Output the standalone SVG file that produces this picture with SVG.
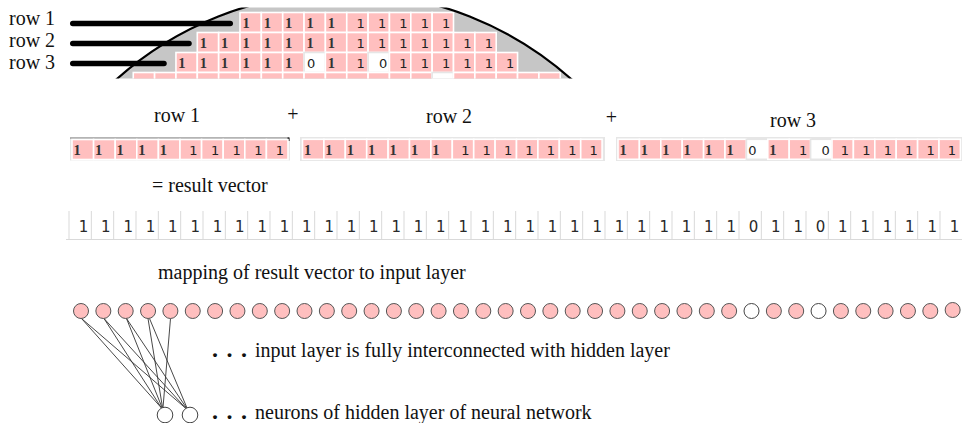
<svg xmlns="http://www.w3.org/2000/svg" width="962" height="423" viewBox="0 0 962 423">
<style>
.lbl{font-family:"Liberation Serif","Times New Roman",serif;font-size:20px;fill:#111}
.d{font-family:"DejaVu Sans",Verdana,sans-serif;font-size:13px;fill:#222;text-anchor:middle}
.g{font-family:"Liberation Serif","Times New Roman",serif;font-weight:bold;font-size:14.5px;fill:#333;text-anchor:middle}
.pk{fill:#ffbfbf;stroke:#fff;stroke-width:1.6}
.wc{fill:#fff;stroke:#e6e6e6;stroke-width:1.6}
.rv{font-family:"DejaVu Sans",Verdana,sans-serif;font-size:15px;fill:#2a2a2a;text-anchor:middle}
.vl{stroke:#d9d9d9;stroke-width:1;fill:none}
.n{fill:#ffbfbf;stroke:#555;stroke-width:1}
.h{fill:#fff;stroke:#444;stroke-width:1}
.e{stroke:#333;stroke-width:0.9;fill:none}
.bar{stroke:#000;stroke-width:5.5;stroke-linecap:round}
.box{fill:#e6e6e6}
.dots{font-family:"Liberation Serif","Times New Roman",serif;font-size:24px;font-weight:bold;fill:#111;text-anchor:middle}
</style>
<defs>
<clipPath id="clipTop"><rect x="0" y="7.5" width="962" height="71"/></clipPath>
</defs>
<rect width="962" height="423" fill="#fff"/>

<g id="wafer-map">
<g clip-path="url(#clipTop)">
<circle cx="344" cy="334" r="341.5" fill="#c6c6c6"/>
<g id="map-row1">
<rect class="pk" x="240" y="12.5" width="21.35" height="20"/><rect class="pk" x="261.35" y="12.5" width="21.35" height="20"/><rect class="pk" x="282.7" y="12.5" width="21.35" height="20"/><rect class="pk" x="304.05" y="12.5" width="21.35" height="20"/><rect class="pk" x="325.4" y="12.5" width="21.35" height="20"/><rect class="pk" x="346.75" y="12.5" width="21.35" height="20"/><rect class="pk" x="368.1" y="12.5" width="21.35" height="20"/><rect class="pk" x="389.45" y="12.5" width="21.35" height="20"/><rect class="pk" x="410.8" y="12.5" width="21.35" height="20"/><rect class="pk" x="432.15" y="12.5" width="21.35" height="20"/>
<text class="g" x="246 267.35 288.7 310.05 331.4" y="28.3">11111</text>
<text class="d" x="360.75 382.1 403.45 424.8 446.15" y="28.3">11111</text>
</g>
<g id="map-row2">
<rect class="pk" x="197.3" y="32.5" width="21.35" height="20"/><rect class="pk" x="218.65" y="32.5" width="21.35" height="20"/><rect class="pk" x="240" y="32.5" width="21.35" height="20"/><rect class="pk" x="261.35" y="32.5" width="21.35" height="20"/><rect class="pk" x="282.7" y="32.5" width="21.35" height="20"/><rect class="pk" x="304.05" y="32.5" width="21.35" height="20"/><rect class="pk" x="325.4" y="32.5" width="21.35" height="20"/><rect class="pk" x="346.75" y="32.5" width="21.35" height="20"/><rect class="pk" x="368.1" y="32.5" width="21.35" height="20"/><rect class="pk" x="389.45" y="32.5" width="21.35" height="20"/><rect class="pk" x="410.8" y="32.5" width="21.35" height="20"/><rect class="pk" x="432.15" y="32.5" width="21.35" height="20"/><rect class="pk" x="453.5" y="32.5" width="21.35" height="20"/><rect class="pk" x="474.85" y="32.5" width="21.35" height="20"/>
<text class="g" x="203.3 224.65 246 267.35 288.7 310.05 331.4" y="48.3">1111111</text>
<text class="d" x="360.75 382.1 403.45 424.8 446.15 467.5 488.85" y="48.3">1111111</text>
</g>
<g id="map-row3">
<rect class="pk" x="175.95" y="52.5" width="21.35" height="20"/><rect class="pk" x="197.3" y="52.5" width="21.35" height="20"/><rect class="pk" x="218.65" y="52.5" width="21.35" height="20"/><rect class="pk" x="240" y="52.5" width="21.35" height="20"/><rect class="pk" x="261.35" y="52.5" width="21.35" height="20"/><rect class="pk" x="282.7" y="52.5" width="21.35" height="20"/><rect class="wc" x="304.05" y="52.5" width="21.35" height="20"/><rect class="pk" x="325.4" y="52.5" width="21.35" height="20"/><rect class="pk" x="346.75" y="52.5" width="21.35" height="20"/><rect class="wc" x="368.1" y="52.5" width="21.35" height="20"/><rect class="pk" x="389.45" y="52.5" width="21.35" height="20"/><rect class="pk" x="410.8" y="52.5" width="21.35" height="20"/><rect class="pk" x="432.15" y="52.5" width="21.35" height="20"/><rect class="pk" x="453.5" y="52.5" width="21.35" height="20"/><rect class="pk" x="474.85" y="52.5" width="21.35" height="20"/><rect class="pk" x="496.2" y="52.5" width="21.35" height="20"/>
<text class="g" x="181.95 203.3 224.65 246 267.35 288.7" y="68.3">111111</text>
<text class="d" x="311.05" y="68.3">0</text>
<text class="g" x="331.4" y="68.3">1</text>
<text class="d" x="360.75" y="68.3">1</text>
<text class="d" x="383.1" y="68.3">0</text>
<text class="d" x="403.45 424.8 446.15 467.5 488.85 510.2" y="68.3">111111</text>
</g>
<g id="map-row4">
<rect class="pk" x="133.25" y="72.5" width="21.35" height="20"/><rect class="pk" x="154.6" y="72.5" width="21.35" height="20"/><rect class="pk" x="175.95" y="72.5" width="21.35" height="20"/><rect class="pk" x="197.3" y="72.5" width="21.35" height="20"/><rect class="pk" x="218.65" y="72.5" width="21.35" height="20"/><rect class="pk" x="240" y="72.5" width="21.35" height="20"/><rect class="pk" x="261.35" y="72.5" width="21.35" height="20"/><rect class="pk" x="282.7" y="72.5" width="21.35" height="20"/><rect class="pk" x="304.05" y="72.5" width="21.35" height="20"/><rect class="pk" x="325.4" y="72.5" width="21.35" height="20"/><rect class="pk" x="346.75" y="72.5" width="21.35" height="20"/><rect class="pk" x="368.1" y="72.5" width="21.35" height="20"/><rect class="pk" x="389.45" y="72.5" width="21.35" height="20"/><rect class="pk" x="410.8" y="72.5" width="21.35" height="20"/><rect class="wc" x="432.15" y="72.5" width="21.35" height="20"/><rect class="pk" x="453.5" y="72.5" width="21.35" height="20"/><rect class="pk" x="474.85" y="72.5" width="21.35" height="20"/><rect class="pk" x="496.2" y="72.5" width="21.35" height="20"/><rect class="pk" x="517.55" y="72.5" width="21.35" height="20"/><rect class="pk" x="538.9" y="72.5" width="21.35" height="20"/>
</g>
<circle cx="344" cy="334" r="341.5" fill="none" stroke="#000" stroke-width="2.2"/>
</g>
<line class="bar" x1="72.75" y1="23.5" x2="230.25" y2="23.5"/>
<line class="bar" x1="72.75" y1="43.5" x2="189" y2="43.5"/>
<line class="bar" x1="72.75" y1="63.5" x2="164" y2="63.5"/>
<text class="lbl" x="9" y="25">row 1</text>
<text class="lbl" x="9" y="47">row 2</text>
<text class="lbl" x="9" y="69">row 3</text>
</g>

<g id="row-vectors">
<text class="lbl" x="154" y="122">row 1</text>
<text class="lbl" x="293" y="121" text-anchor="middle">+</text>
<text class="lbl" x="426" y="123">row 2</text>
<text class="lbl" x="611.5" y="124" text-anchor="middle">+</text>
<text class="lbl" x="770" y="126.5">row 3</text>
<g id="vec-row1">
<rect class="box" x="70" y="137.5" width="220" height="23"/>
<line x1="70" y1="138" x2="289" y2="138" stroke="#777" stroke-width="1"/>
<rect x="287.5" y="137.5" width="2" height="3.5" fill="#000"/>
<rect class="pk" x="72" y="139.5" width="21.6" height="20"/><rect class="pk" x="93.6" y="139.5" width="21.6" height="20"/><rect class="pk" x="115.2" y="139.5" width="21.6" height="20"/><rect class="pk" x="136.8" y="139.5" width="21.6" height="20"/><rect class="pk" x="158.4" y="139.5" width="21.6" height="20"/><rect class="pk" x="180" y="139.5" width="21.6" height="20"/><rect class="pk" x="201.6" y="139.5" width="21.6" height="20"/><rect class="pk" x="223.2" y="139.5" width="21.6" height="20"/><rect class="pk" x="244.8" y="139.5" width="21.6" height="20"/><rect class="pk" x="266.4" y="139.5" width="21.6" height="20"/>
<text class="g" x="77 98.6 120.2 141.8 163.4" y="155">11111</text>
<text class="d" x="193.5 215.1 236.7 258.3 279.9" y="155">11111</text>
</g>
<g id="vec-row2">
<rect class="box" x="300" y="137" width="305" height="24"/>
<rect class="pk" x="302.5" y="139.3" width="21.4" height="20"/><rect class="pk" x="323.9" y="139.3" width="21.4" height="20"/><rect class="pk" x="345.3" y="139.3" width="21.4" height="20"/><rect class="pk" x="366.7" y="139.3" width="21.4" height="20"/><rect class="pk" x="388.1" y="139.3" width="21.4" height="20"/><rect class="pk" x="409.5" y="139.3" width="21.4" height="20"/><rect class="pk" x="430.9" y="139.3" width="21.4" height="20"/><rect class="pk" x="452.3" y="139.3" width="21.4" height="20"/><rect class="pk" x="473.7" y="139.3" width="21.4" height="20"/><rect class="pk" x="495.1" y="139.3" width="21.4" height="20"/><rect class="pk" x="516.5" y="139.3" width="21.4" height="20"/><rect class="pk" x="537.9" y="139.3" width="21.4" height="20"/><rect class="pk" x="559.3" y="139.3" width="21.4" height="20"/><rect class="pk" x="580.7" y="139.3" width="21.4" height="20"/>
<text class="g" x="307.5 328.9 350.3 371.7 393.1 414.5 435.9" y="155">1111111</text>
<text class="d" x="465.3 486.7 508.1 529.5 550.9 572.3 593.7" y="155">1111111</text>
</g>
<g id="vec-row3">
<rect class="box" x="616" y="137" width="346" height="24"/>
<rect class="pk" x="618" y="139.3" width="21.4" height="20"/><rect class="pk" x="639.4" y="139.3" width="21.4" height="20"/><rect class="pk" x="660.8" y="139.3" width="21.4" height="20"/><rect class="pk" x="682.2" y="139.3" width="21.4" height="20"/><rect class="pk" x="703.6" y="139.3" width="21.4" height="20"/><rect class="pk" x="725" y="139.3" width="21.4" height="20"/><rect class="wc" x="746.4" y="139.3" width="21.4" height="20"/><rect class="pk" x="767.8" y="139.3" width="21.4" height="20"/><rect class="pk" x="789.2" y="139.3" width="21.4" height="20"/><rect class="wc" x="810.6" y="139.3" width="21.4" height="20"/><rect class="pk" x="832" y="139.3" width="21.4" height="20"/><rect class="pk" x="853.4" y="139.3" width="21.4" height="20"/><rect class="pk" x="874.8" y="139.3" width="21.4" height="20"/><rect class="pk" x="896.2" y="139.3" width="21.4" height="20"/><rect class="pk" x="917.6" y="139.3" width="21.4" height="20"/><rect class="pk" x="939" y="139.3" width="21.4" height="20"/>
<text class="g" x="623 644.4 665.8 687.2 708.6 730" y="155">111111</text>
<text class="d" x="752.4" y="155">0</text>
<text class="g" x="772.8" y="155">1</text>
<text class="d" x="803.2" y="155">1</text>
<text class="d" x="825.6" y="155">0</text>
<text class="d" x="845 866.4 887.8 909.2 930.6 952" y="155">111111</text>
</g>
</g>

<g id="result-vector">
<text class="lbl" x="152" y="192">= result vector</text>
<path class="vl" d="M69 211V240M91.33 211V240M113.67 211V240M136 211V240M158.33 211V240M180.67 211V240M203 211V240M225.33 211V240M247.67 211V240M270 211V240M292.33 211V240M314.67 211V240M337 211V240M359.33 211V240M381.67 211V240M404 211V240M426.33 211V240M448.67 211V240M471 211V240M493.33 211V240M515.67 211V240M538 211V240M560.33 211V240M582.67 211V240M605 211V240M627.33 211V240M649.67 211V240M672 211V240M694.33 211V240M716.67 211V240M739 211V240M761.33 211V240M783.67 211V240M806 211V240M828.33 211V240M850.67 211V240M873 211V240M895.33 211V240M917.67 211V240M940 211V240M66 239.5H962"/>
<text class="rv" x="83.5 105.83 128.17 150.5 172.83 195.17 217.5 239.83 262.17 284.5 306.83 329.17 351.5 373.83 396.17 418.5 440.83 463.17 485.5 507.83 530.17 552.5 574.83 597.17 619.5 641.83 664.17 686.5 708.83 731.17 753.5 775.83 798.17 820.5 842.83 865.17 887.5 909.83 932.17 954.5" y="232">1111111111111111111111111111110110111111</text>
<text class="lbl" x="158" y="279">mapping of result vector to input layer</text>
</g>

<g id="connectors">
<line class="e" x1="81.5" y1="318.5" x2="161.5" y2="408"/>
<line class="e" x1="81.5" y1="318.5" x2="186" y2="408.5"/>
<line class="e" x1="104" y1="318.5" x2="161.5" y2="408"/>
<line class="e" x1="104" y1="318.5" x2="186" y2="408.5"/>
<line class="e" x1="126.5" y1="318.5" x2="162" y2="407.5"/>
<line class="e" x1="126.5" y1="318.5" x2="186.5" y2="408"/>
<line class="e" x1="148" y1="318.5" x2="162.5" y2="407.5"/>
<line class="e" x1="149.5" y1="318.5" x2="187" y2="408"/>
<line class="e" x1="170.5" y1="318.5" x2="163" y2="407.5"/>
</g>

<g id="input-layer">
<g id="in-1"><circle class="n" cx="81" cy="311" r="7.5"/></g>
<g id="in-2"><circle class="n" cx="103.35" cy="311" r="7.5"/></g>
<g id="in-3"><circle class="n" cx="125.7" cy="311" r="7.5"/></g>
<g id="in-4"><circle class="n" cx="148.05" cy="311" r="7.5"/></g>
<g id="in-5"><circle class="n" cx="170.4" cy="311" r="7.5"/></g>
<g id="in-6"><circle class="n" cx="192.75" cy="311" r="7.5"/></g>
<g id="in-7"><circle class="n" cx="215.1" cy="311" r="7.5"/></g>
<g id="in-8"><circle class="n" cx="237.45" cy="311" r="7.5"/></g>
<g id="in-9"><circle class="n" cx="259.8" cy="311" r="7.5"/></g>
<g id="in-10"><circle class="n" cx="282.15" cy="311" r="7.5"/></g>
<g id="in-11"><circle class="n" cx="304.5" cy="311" r="7.5"/></g>
<g id="in-12"><circle class="n" cx="326.85" cy="311" r="7.5"/></g>
<g id="in-13"><circle class="n" cx="349.2" cy="311" r="7.5"/></g>
<g id="in-14"><circle class="n" cx="371.55" cy="311" r="7.5"/></g>
<g id="in-15"><circle class="n" cx="393.9" cy="311" r="7.5"/></g>
<g id="in-16"><circle class="n" cx="416.25" cy="311" r="7.5"/></g>
<g id="in-17"><circle class="n" cx="438.6" cy="311" r="7.5"/></g>
<g id="in-18"><circle class="n" cx="460.95" cy="311" r="7.5"/></g>
<g id="in-19"><circle class="n" cx="483.3" cy="311" r="7.5"/></g>
<g id="in-20"><circle class="n" cx="505.65" cy="311" r="7.5"/></g>
<g id="in-21"><circle class="n" cx="528" cy="311" r="7.5"/></g>
<g id="in-22"><circle class="n" cx="550.35" cy="311" r="7.5"/></g>
<g id="in-23"><circle class="n" cx="572.7" cy="311" r="7.5"/></g>
<g id="in-24"><circle class="n" cx="595.05" cy="311" r="7.5"/></g>
<g id="in-25"><circle class="n" cx="617.4" cy="311" r="7.5"/></g>
<g id="in-26"><circle class="n" cx="639.75" cy="311" r="7.5"/></g>
<g id="in-27"><circle class="n" cx="662.1" cy="311" r="7.5"/></g>
<g id="in-28"><circle class="n" cx="684.45" cy="311" r="7.5"/></g>
<g id="in-29"><circle class="n" cx="706.8" cy="311" r="7.5"/></g>
<g id="in-30"><circle class="n" cx="729.15" cy="311" r="7.5"/></g>
<g id="in-31"><circle class="h" cx="751.5" cy="311" r="7.5"/></g>
<g id="in-32"><circle class="n" cx="773.85" cy="311" r="7.5"/></g>
<g id="in-33"><circle class="n" cx="796.2" cy="311" r="7.5"/></g>
<g id="in-34"><circle class="h" cx="818.55" cy="311" r="7.5"/></g>
<g id="in-35"><circle class="n" cx="840.9" cy="311" r="7.5"/></g>
<g id="in-36"><circle class="n" cx="863.25" cy="311" r="7.5"/></g>
<g id="in-37"><circle class="n" cx="885.6" cy="311" r="7.5"/></g>
<g id="in-38"><circle class="n" cx="907.95" cy="311" r="7.5"/></g>
<g id="in-39"><circle class="n" cx="930.3" cy="311" r="7.5"/></g>
<g id="in-40"><circle class="n" cx="952.65" cy="310" r="7.5"/></g>
</g>

<g id="hidden-layer">
<g id="hid-1"><circle class="h" cx="165" cy="415" r="7.8"/></g>
<g id="hid-2"><circle class="h" cx="190" cy="415" r="7.8"/></g>
</g>

<g id="legend">
<text class="dots" x="215 229.5 244" y="357">...</text>
<text class="lbl" x="255" y="357">input layer is fully interconnected with hidden layer</text>
<text class="dots" x="215 229.5 244" y="418.5">...</text>
<text class="lbl" x="255" y="418.5">neurons of hidden layer of neural network</text>
</g>
</svg>
